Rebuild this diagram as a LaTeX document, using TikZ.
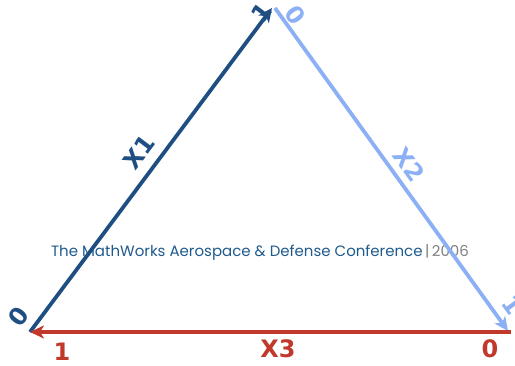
\documentclass[tikz,border=0pt]{standalone}
\usepackage{fontspec}
\setmainfont{DejaVu Sans}
\newfontfamily\confont{Poppins}
\usetikzlibrary{arrows.meta}
\definecolor{dkblue}{HTML}{1F4F82}
\definecolor{ltblue}{HTML}{8CB0F5}
\definecolor{myred}{HTML}{C0392B}
\definecolor{txtblue}{HTML}{1F5A8C}
\definecolor{txtgray}{HTML}{808080}
\tikzset{
  edge/.style={line width=3.8pt, -{Stealth[length=14pt,width=13pt,inset=4pt]}},
  lbl/.style={font=\bfseries\fontsize{24}{24}\selectfont, inner sep=0pt},
}
\begin{document}
\begin{tikzpicture}[x=1pt,y=-1pt]
\useasboundingbox (0,0) rectangle (515,365);
\coordinate (L) at (30,332);
\coordinate (T) at (272,8);
\coordinate (T2) at (275,8);
\coordinate (R) at (508,331);
\coordinate (R2) at (511,332);
% labels
\node[lbl, dkblue, rotate=53] (l0) at (19,317) {0};
\node[lbl, dkblue, rotate=53] (l1) at (262,13) {1};
\node[lbl, dkblue, rotate=53] (lx1) at (139,152) {X1};
\node[lbl, ltblue, rotate=-54] (r0) at (295,15) {0};
\node[lbl, ltblue, rotate=-54] (rx2) at (409,165) {X2};
\node[lbl, ltblue, rotate=-54] (r1) at (512,305) {1};
\node[lbl, myred] (b1) at (62,352) {1};
\node[lbl, myred] (bx3) at (278,349) {X3};
\node[lbl, myred] (b0) at (490,349) {0};
\node[inner sep=0pt, font=\confont\fontsize{15}{15}\selectfont] (conf) at (260,252)
  {\textcolor{txtblue}{The MathWorks Aerospace \& Defense Conference}\textcolor{txtgray}{\,|\,2006}};
\draw[edge, dkblue] (L) -- (T);
\draw[edge, ltblue] (T2) -- (R);
\draw[edge, myred] (R2) -- (L);
\end{tikzpicture}
\end{document}
